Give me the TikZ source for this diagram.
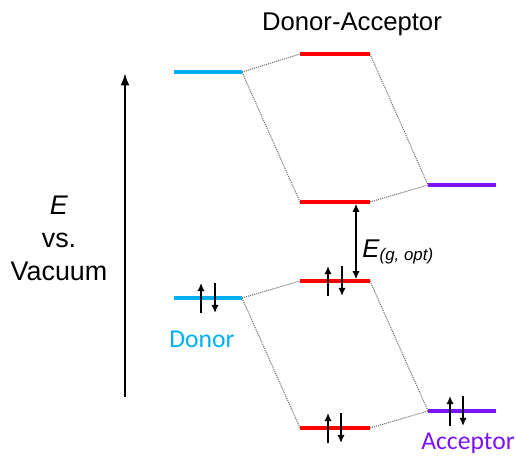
\documentclass[tikz,border=0pt]{standalone}
\usepackage{fontspec}
\setmainfont{Liberation Sans}
\newfontfamily\calfont{Carlito}
\usetikzlibrary{arrows.meta, positioning}
\definecolor{donorblue}{RGB}{0, 176, 240}
\definecolor{levelred}{RGB}{255, 0, 0}
\definecolor{accpurple}{RGB}{124, 18, 255}
\definecolor{linkgray}{RGB}{110, 110, 110}

\tikzset{
  level/.style={minimum height=2pt, inner sep=0pt, outer sep=0pt},
  donorlvl/.style={level, fill=donorblue, minimum width=1.36cm},
  dalvl/.style={level, fill=levelred, minimum width=1.4cm},
  acclvl/.style={level, fill=accpurple, minimum width=1.36cm},
  link/.style={draw=linkgray, line width=0.6pt, dash pattern=on 0.6pt off 0.6pt},
  spin/.style={line width=1.3pt, -{Latex[length=4.6pt, width=4.2pt]}},
  label/.style={font=\fontsize{14.6}{17}\selectfont}
}

\begin{document}
\begin{tikzpicture}[x=0.02cm, y=-0.02cm]
  \useasboundingbox (0,0) rectangle (516,457);

  % energy levels
  \node[donorlvl] (donorLUMO) at (208,72) {};
  \node[donorlvl] (donorHOMO) at (208,298) {};
  \node[dalvl] (daLUMOup) at (335,54) {};
  \node[dalvl] (daLUMO) at (335,202) {};
  \node[dalvl] (daHOMO) at (335,281) {};
  \node[dalvl] (daHOMOdown) at (335,428) {};
  \node[acclvl] (accLUMO) at (462,185) {};
  \node[acclvl] (accHOMO) at (462,411) {};

  % mixing lines
  \draw[link] (donorLUMO.east) -- (daLUMOup.west);
  \draw[link] (donorLUMO.east) -- (daLUMO.west);
  \draw[link] (daLUMOup.east) -- (accLUMO.west);
  \draw[link] (daLUMO.east) -- (accLUMO.west);
  \draw[link] (donorHOMO.east) -- (daHOMO.west);
  \draw[link] (donorHOMO.east) -- (daHOMOdown.west);
  \draw[link] (daHOMO.east) -- (accHOMO.west);
  \draw[link] (daHOMOdown.east) -- (accHOMO.west);

  % electron pairs
  \foreach \xu/\xd/\y in {201/215/298, 328/342/281, 328/341/428, 450/463/411} {
    \draw[spin] (\xu,\y+15) -- (\xu,\y-15);
    \draw[spin] (\xd,\y-15) -- (\xd,\y+15);
  }

  % optical gap
  \draw[line width=1.1pt, {Latex[length=4.6pt, width=4.2pt]}-{Latex[length=4.6pt, width=4.2pt]}]
    ([xshift=0.42cm]daLUMO.south) -- ([xshift=0.42cm]daHOMO.north);
  \node[label, anchor=base west, inner sep=0pt] (gapLabel) at (362,257)
    {\textit{E}\textsubscript{\itshape\fontsize{9.6}{11}\selectfont (g, opt)}};

  % energy axis
  \coordinate (axisBottom) at (125,397);
  \coordinate (axisTop) at (125,73);
  \draw[line width=1.2pt, -{Latex[length=7pt, width=5pt]}] (axisBottom) -- (axisTop);
  \node[align=center, font=\fontsize{15.3}{18.8}\selectfont] (axisLabel) at (59,238)
    {\textit{E}\\vs.\\Vacuum};

  % labels
  \node[label] (title) at (352,24) {Donor-Acceptor};
  \node[label, text=donorblue, font=\calfont\fontsize{14.6}{17}\selectfont] (donorText) at (202,339) {Donor};
  \node[label, text=accpurple, font=\calfont\fontsize{14.6}{17}\selectfont] (accText) at (468,443) {Acceptor};
\end{tikzpicture}
\end{document}
